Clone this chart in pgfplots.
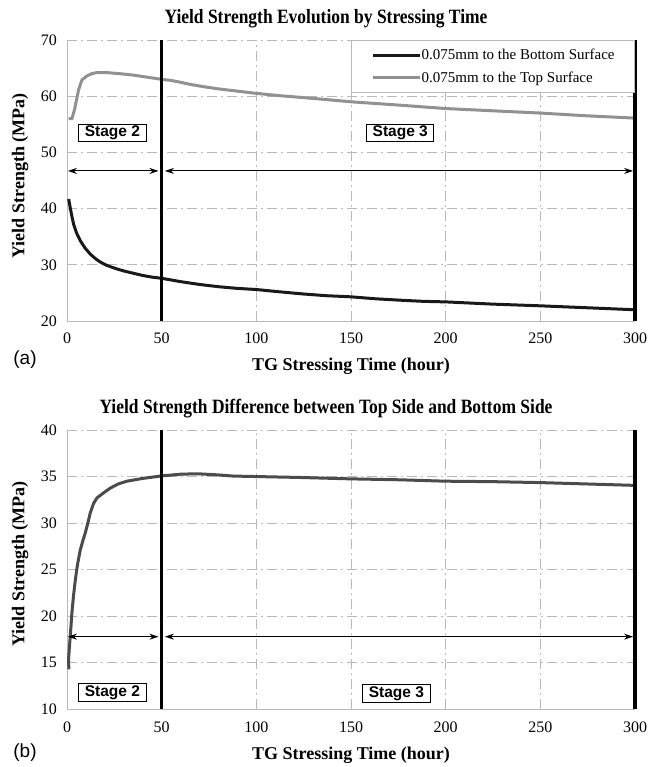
\documentclass[border=0pt]{standalone}
\usepackage{fontspec}
\setmainfont{Liberation Serif}
\newfontfamily\arialf{Liberation Sans}
\usepackage{graphicx}
\usepackage{pgfplots}
\pgfplotsset{compat=1.18}
\usetikzlibrary{arrows.meta}
\definecolor{topgray}{RGB}{145,145,145}
\definecolor{diffgray}{RGB}{75,75,75}
\definecolor{blk}{RGB}{25,25,25}
\definecolor{gridc}{RGB}{185,185,185}
\pgfplotsset{
  legend image code/.code={\draw[#1] (0pt,0pt) -- (47pt,0pt);},
  myaxis/.style={
    scale only axis, width=568pt, xmin=0, xmax=300,
    axis x line*=bottom, axis y line*=left,
    axis line style={-, gridc, line width=0.9pt},
    major tick length=0pt,
    grid=major,
    grid style={gridc, line width=0.6pt, dash pattern=on 10pt off 4pt on 2pt off 4pt},
    xtick={0,50,...,300},
    /pgf/number format/assume math mode=true,
    tick label style={font=\fontsize{16}{19}\selectfont, inner sep=0pt},
    yticklabel style={anchor=east, xshift=-10pt},
    xticklabel style={anchor=north, yshift=-12pt},
    clip=false,
  },
}
\tikzset{
  stagebox/.style={draw=black, line width=1pt, fill=white, inner xsep=6pt, inner ysep=1.5pt, font=\arialf\bfseries\fontsize{15.5}{18}\selectfont},
  stagearrow/.style={black, line width=1.1pt, {Stealth[length=9pt,width=6pt]}-{Stealth[length=9pt,width=6pt]}},
}
\begin{document}
\begin{tikzpicture}
\path[use as bounding box] (0pt,0pt) rectangle (652pt,767pt);
% ---------- (a) ----------
\begin{axis}[myaxis, at={(67pt,446pt)}, anchor=south west, height=281pt,
  ymin=20, ymax=70, ytick={20,30,...,70},
  legend style={at={(rel axis cs:1,1)}, anchor=north east, draw=gridc, line width=0.8pt, fill=white,
    inner xsep=20pt, inner ysep=8pt, row sep=8pt,
    font=\fontsize{15}{17}\selectfont, nodes={inner xsep=0pt, inner ysep=1pt}},
  legend cell align=left]
\addplot[blk, line width=3pt] coordinates {
(0.9,41.7) (1.3,40.9) (1.8,40.0) (2.6,38.6) (3.5,37.2) (5,35.7) (7,34.3) (9.5,33.0) (12.3,31.9) (15,31.1) (17.5,30.5) (21,29.9) (26,29.3) (30,28.9) (35,28.5) (40,28.1) (45,27.8) (50,27.6) (60,27.0) (70,26.5) (80,26.1) (90,25.8) (100,25.6) (112,25.2) (125,24.8) (137,24.5) (150,24.3) (163,23.95) (176,23.7) (188,23.5) (200,23.4) (225,23.0) (250,22.7) (275,22.35) (300,22.0)
};
\addlegendentry{0.075mm to the Bottom Surface}
\addplot[topgray, line width=3pt] coordinates {
(0.9,56.0) (2.6,56.0) (3.9,57.5) (5,59.3) (6.1,61.1) (7.9,62.9) (10.5,63.6) (13,64.0) (15.8,64.2) (21,64.2) (28,64.0) (35,63.75) (42,63.4) (50,63.0) (55,62.8) (59.7,62.5) (65,62.1) (72,61.7) (80,61.3) (90,60.9) (100,60.5) (112,60.1) (123,59.8) (137,59.4) (150,59.0) (163,58.7) (176,58.4) (188,58.1) (200,57.8) (225,57.4) (250,57.0) (275,56.5) (300,56.1)
};
\addlegendentry{0.075mm to the Top Surface}
\addplot[black, line width=3.2pt, forget plot] coordinates {(50,20) (50,70)};
\addplot[black, line width=3.2pt, forget plot] coordinates {(300,20) (300,70)};
\draw[stagearrow] (axis cs:0.5,46.7) -- (axis cs:48.3,46.7);
\draw[stagearrow] (axis cs:51.7,46.7) -- (axis cs:299,46.7);
\node[stagebox] at (axis cs:24,53.5) {Stage 2};
\node[stagebox] at (axis cs:176,53.5) {Stage 3};
\end{axis}
% ---------- (b) ----------
\begin{axis}[myaxis, at={(67pt,57.7pt)}, anchor=south west, height=279.3pt,
  ymin=10, ymax=40, ytick={10,15,...,40}]
\addplot[diffgray, line width=3pt] coordinates {
(1.0,14.3) (0.8,15.3) (1.2,16.5) (1.75,17.9) (2.6,20.4) (3.5,22.3) (4.4,23.9) (5.5,25.5) (7,27.1) (8.5,28.2) (9.6,28.9) (11,30.0) (12.3,31.1) (14,32.1) (15.8,32.7) (19,33.2) (22.8,33.75) (27,34.2) (31.6,34.5) (40,34.8) (50,35.07) (60,35.25) (68.5,35.3) (78,35.2) (88,35.05) (100,35.0) (123,34.9) (150,34.75) (176,34.65) (200,34.5) (225,34.45) (250,34.35) (275,34.2) (300,34.05)
};
\addplot[black, line width=3.2pt, forget plot] coordinates {(50,10) (50,40)};
\addplot[black, line width=3.2pt, forget plot] coordinates {(300,10) (300,40)};
\draw[stagearrow] (axis cs:0.5,17.8) -- (axis cs:48.3,17.8);
\draw[stagearrow] (axis cs:51.7,17.8) -- (axis cs:299,17.8);
\node[stagebox] at (axis cs:24,11.8) {Stage 2};
\node[stagebox] at (axis cs:174,11.7) {Stage 3};
\end{axis}
% ---------- texts ----------
\node at (326pt,748pt) {\fontsize{20.3}{24}\selectfont\bfseries\scalebox{0.86}[1]{Yield Strength Evolution by Stressing Time}};
\node at (326pt,358pt) {\fontsize{20.3}{24}\selectfont\bfseries\scalebox{0.86}[1]{Yield Strength Difference between Top Side and Bottom Side}};
\node[rotate=90] at (20pt,591pt) {\fontsize{18}{21}\selectfont\bfseries Yield Strength (MPa)};
\node[rotate=90] at (20pt,203pt) {\fontsize{18}{21}\selectfont\bfseries Yield Strength (MPa)};
\node at (351pt,401pt) {\fontsize{18}{21}\selectfont\bfseries TG Stressing Time (hour)};
\node at (351pt,12pt) {\fontsize{18}{21}\selectfont\bfseries TG Stressing Time (hour)};
\node at (25pt,407pt) {\arialf\fontsize{19}{22}\selectfont (a)};
\node at (25pt,14pt) {\arialf\fontsize{19}{22}\selectfont (b)};
\end{tikzpicture}
\end{document}
